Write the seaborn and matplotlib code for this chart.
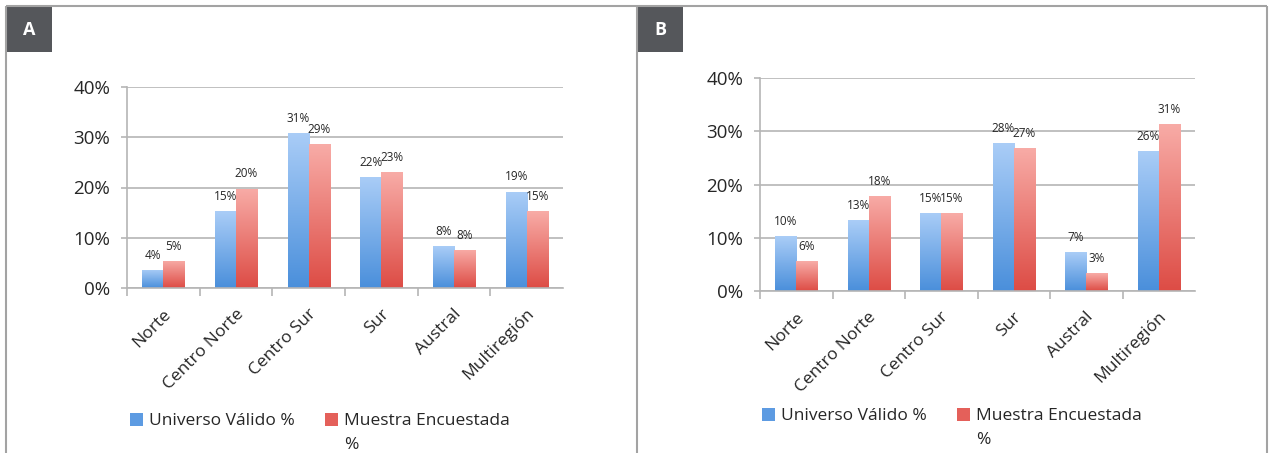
import numpy as np
import pandas as pd
import matplotlib
matplotlib.use("Agg")
import matplotlib.pyplot as plt
import matplotlib.transforms as mtransforms
import seaborn as sns
from matplotlib.colors import LinearSegmentedColormap, to_rgb
from matplotlib.patches import Rectangle, Patch
from matplotlib.lines import Line2D

# ---- data -------------------------------------------------------------
regions = ["Norte", "Centro Norte", "Centro Sur", "Sur", "Austral", "Multiregión"]
series = ["Universo Válido %", "Muestra Encuestada %"]

universo_a = [3.6, 15.3, 30.9, 22.1, 8.3, 19.2]
muestra_a = [5.4, 19.8, 28.6, 23.0, 7.6, 15.3]

universo_b = [10.3, 13.3, 14.7, 27.7, 7.3, 26.3]
muestra_b = [5.6, 17.9, 14.6, 26.9, 3.3, 31.4]

y_ticks = [0, 10, 20, 30, 40]
panel_letters = ["A", "B"]

# ---- style ------------------------------------------------------------
W, H = 1269, 453
BLUE = "#5d9be2"
RED = "#e4605a"
BLUE_GRAD = LinearSegmentedColormap.from_list("blue_grad", ["#aacdf7", "#4a8fdb"])
RED_GRAD = LinearSegmentedColormap.from_list("red_grad", ["#f8aca7", "#dd4c45"])
GRID = "#b5b5b5"
FRAME = "#a3a3a3"
TEXT = "#262626"

sns.set_theme(style="white")
plt.rcParams["font.family"] = ["Open Sans", "DejaVu Sans"]
plt.rcParams["text.color"] = TEXT


def px_box(x0, y0, x1, y1):
    """Figure-fraction rectangle [left, bottom, width, height] from pixel corners."""
    return [x0 / W, 1 - y1 / H, (x1 - x0) / W, (y1 - y0) / H]


def draw_panel(ax, universo, muestra, legend_xy):
    df = pd.DataFrame({
        "Región": regions * 2,
        "Serie": [series[0]] * len(regions) + [series[1]] * len(regions),
        "Valor": universo + muestra,
    })
    sns.barplot(data=df, x="Región", y="Valor", hue="Serie", order=regions,
                hue_order=series, palette=[BLUE, RED], width=0.58,
                saturation=1, linewidth=0, legend=False, ax=ax)

    # vertical gradient fill on each bar, plus its value label
    grad = np.linspace(0, 1, 256).reshape(-1, 1)
    for bar in list(ax.patches):
        x0, w, h = bar.get_x(), bar.get_width(), bar.get_height()
        fc = np.array(bar.get_facecolor()[:3])
        cmap = BLUE_GRAD if np.allclose(fc, to_rgb(BLUE), atol=0.02) else RED_GRAD
        im = ax.imshow(grad, cmap=cmap, extent=[x0, x0 + w, 0, h], origin="upper",
                       aspect="auto", interpolation="bicubic", zorder=bar.get_zorder() + 0.1)
        im.set_clip_path(bar)
        ax.annotate(f"{h:.0f}%", xy=(x0 + w / 2, h), xytext=(0, 10.5),
                    textcoords="offset points", ha="center", va="center",
                    fontsize=8.5, color=TEXT, zorder=5)

    ax.set_aspect("auto")
    ax.set_xlim(-0.5, len(regions) - 0.5)
    ax.set_ylim(0, 40)
    ax.set_xlabel("")
    ax.set_ylabel("")

    ax.set_yticks(y_ticks)
    ax.set_yticklabels([f"{t}%" for t in y_ticks])
    ax.yaxis.grid(True, color=GRID, lw=1.2)
    ax.set_axisbelow(True)
    for side in ("top", "right"):
        ax.spines[side].set_visible(False)
    for side in ("left", "bottom"):
        ax.spines[side].set_color(GRID)
        ax.spines[side].set_linewidth(1.2)

    ax.tick_params(axis="y", length=4, width=1.2, color=GRID, pad=8,
                   labelsize=13.5, labelcolor=TEXT, left=True)
    ax.set_xticks(range(len(regions)))
    ax.set_xticks(np.arange(-0.5, len(regions) - 1), minor=True)
    ax.tick_params(axis="x", which="minor", length=6, width=1.2, color=GRID, bottom=True)
    ax.tick_params(axis="x", which="major", length=0, pad=17, labelsize=12.5, labelcolor=TEXT)
    shift = mtransforms.ScaledTranslation(5 / 100, 0, ax.figure.dpi_scale_trans)
    for lab in ax.get_xticklabels():
        lab.set_rotation(45)
        lab.set_ha("right")
        lab.set_va("center")
        lab.set_rotation_mode("anchor")
        lab.set_transform(lab.get_transform() + shift)

    handles = [Patch(facecolor=BLUE, edgecolor="none"), Patch(facecolor=RED, edgecolor="none")]
    leg = ax.legend(handles, ["Universo Válido %", "Muestra Encuestada"], ncol=2,
                    loc="upper left",
                    bbox_to_anchor=(legend_xy[0] / W, 1 - legend_xy[1] / H),
                    bbox_transform=ax.figure.transFigure, frameon=False,
                    handlelength=0.75, handleheight=0.75, handletextpad=0.35,
                    columnspacing=1.75, fontsize=12.5, borderpad=0, borderaxespad=0,
                    labelcolor=TEXT)
    return leg


fig = plt.figure(figsize=(W / 100, H / 100), dpi=100)
fig.patch.set_facecolor("white")

ax_a = fig.add_axes(px_box(127, 87, 563, 288))
ax_b = fig.add_axes(px_box(760, 78, 1195, 291))

legends = [
    draw_panel(ax_a, universo_a, muestra_a, legend_xy=(130, 413)),
    draw_panel(ax_b, universo_b, muestra_b, legend_xy=(762, 408)),
]

# the second legend entry wraps its trailing "%" onto a new line
fig.canvas.draw()
renderer = fig.canvas.get_renderer()
for leg in legends:
    txt = leg.get_texts()[1]
    bb = txt.get_window_extent(renderer)
    fig.text(bb.x0 / W, (bb.y0 - 8) / H, "%", fontsize=12.5, color=TEXT,
             ha="left", va="top")

# panel frames
def fig_line(xs, ys):
    fig.add_artist(Line2D([x / W for x in xs], [1 - y / H for y in ys],
                          transform=fig.transFigure, color=FRAME, lw=1.5,
                          solid_capstyle="butt"))

fig_line([6, 1267], [6, 6])
for x in (6, 637, 1267):
    fig_line([x, x], [6, H])

# panel letter tabs
for letter, x0 in zip(panel_letters, (6, 637)):
    fig.add_artist(Rectangle((x0 / W, 1 - 52 / H), 46 / W, 46 / H,
                             transform=fig.transFigure, facecolor="#55575b",
                             edgecolor="none"))
    fig.text((x0 + 23) / W, 1 - 30 / H, letter, color="white", fontsize=13,
             fontweight="bold", ha="center", va="center")

fig.savefig("out.png", dpi=100, facecolor="white")
